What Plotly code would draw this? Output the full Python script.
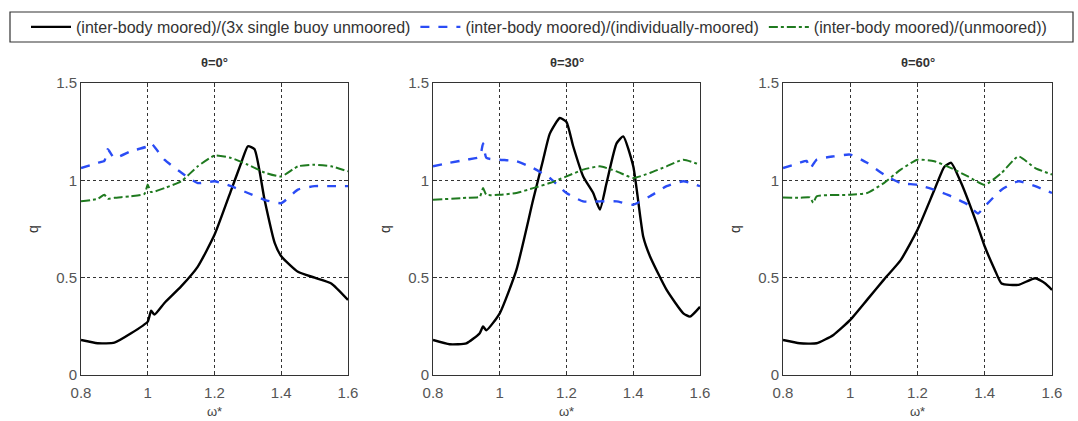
import plotly.graph_objects as go

# ---------------- data ----------------
titles = ["θ=0°", "θ=30°", "θ=60°"]
legend_names = ["(inter-body moored)/(3x single buoy unmoored)",
                "(inter-body moored)/(individually-moored)",
                "(inter-body moored)/(unmoored))"]

# panel 1 (theta = 0)
p1_black_x = [0.8, 0.85, 0.9, 0.95, 1.0, 1.01, 1.02, 1.05, 1.1, 1.15, 1.2, 1.25, 1.28, 1.3, 1.32, 1.35, 1.38, 1.4, 1.45, 1.5, 1.55, 1.6]
p1_black_y = [0.18, 0.163, 0.166, 0.214, 0.274, 0.33, 0.31, 0.37, 0.455, 0.557, 0.72, 0.95, 1.09, 1.175, 1.16, 0.90, 0.68, 0.61, 0.53, 0.50, 0.47, 0.385]
p1_blue_x = [0.8, 0.85, 0.87, 0.88, 0.9, 0.95, 1.0, 1.01, 1.05, 1.1, 1.15, 1.2, 1.25, 1.3, 1.35, 1.4, 1.45, 1.5, 1.55, 1.6]
p1_blue_y = [1.063, 1.09, 1.10, 1.16, 1.115, 1.15, 1.175, 1.19, 1.106, 1.04, 0.986, 0.995, 0.97, 0.935, 0.90, 0.883, 0.952, 0.97, 0.97, 0.97]
p1_green_x = [0.8, 0.85, 0.87, 0.88, 0.9, 0.95, 0.99, 1.0, 1.01, 1.05, 1.1, 1.15, 1.2, 1.25, 1.3, 1.35, 1.4, 1.45, 1.5, 1.55, 1.6]
p1_green_y = [0.892, 0.905, 0.926, 0.905, 0.91, 0.918, 0.93, 0.978, 0.94, 0.96, 0.995, 1.072, 1.127, 1.115, 1.08, 1.04, 1.02, 1.072, 1.08, 1.072, 1.046]

# panel 2 (theta = 30)
p2_black_x = [0.8, 0.85, 0.9, 0.94, 0.95, 0.96, 1.0, 1.05, 1.1, 1.13, 1.15, 1.18, 1.2, 1.22, 1.25, 1.28, 1.3, 1.32, 1.35, 1.37, 1.4, 1.43, 1.45, 1.5, 1.55, 1.57, 1.6]
p2_black_y = [0.18, 0.158, 0.163, 0.215, 0.249, 0.23, 0.317, 0.54, 0.90, 1.106, 1.24, 1.32, 1.30, 1.175, 1.02, 0.935, 0.85, 0.986, 1.19, 1.226, 1.072, 0.71, 0.61, 0.437, 0.317, 0.30, 0.35]
p2_blue_x = [0.8, 0.85, 0.9, 0.94, 0.95, 0.96, 1.0, 1.05, 1.1, 1.15, 1.2, 1.25, 1.3, 1.35, 1.4, 1.45, 1.5, 1.55, 1.6]
p2_blue_y = [1.072, 1.09, 1.106, 1.12, 1.19, 1.115, 1.106, 1.098, 1.063, 1.012, 0.935, 0.892, 0.892, 0.892, 0.875, 0.918, 0.97, 0.995, 0.97]
p2_green_x = [0.8, 0.9, 0.94, 0.95, 0.96, 1.0, 1.05, 1.1, 1.15, 1.2, 1.25, 1.3, 1.35, 1.4, 1.45, 1.5, 1.55, 1.6]
p2_green_y = [0.90, 0.91, 0.915, 0.96, 0.926, 0.926, 0.935, 0.96, 0.986, 1.02, 1.055, 1.072, 1.046, 1.012, 1.038, 1.072, 1.106, 1.08]

# panel 3 (theta = 60)
p3_black_x = [0.8, 0.85, 0.9, 0.95, 1.0, 1.05, 1.1, 1.15, 1.2, 1.25, 1.28, 1.3, 1.33, 1.38, 1.4, 1.43, 1.45, 1.5, 1.55, 1.58, 1.6]
p3_black_y = [0.18, 0.163, 0.163, 0.206, 0.283, 0.386, 0.49, 0.59, 0.746, 0.95, 1.07, 1.09, 0.986, 0.76, 0.66, 0.54, 0.47, 0.463, 0.497, 0.47, 0.437]
p3_blue_x = [0.8, 0.85, 0.87, 0.88, 0.9, 0.95, 1.0, 1.05, 1.1, 1.15, 1.2, 1.25, 1.3, 1.35, 1.38, 1.4, 1.45, 1.5, 1.55, 1.6]
p3_blue_y = [1.063, 1.09, 1.10, 1.06, 1.106, 1.123, 1.132, 1.09, 1.03, 0.986, 0.977, 0.952, 0.918, 0.875, 0.83, 0.866, 0.952, 0.995, 0.97, 0.935]
p3_green_x = [0.8, 0.85, 0.88, 0.89, 0.9, 1.0, 1.05, 1.1, 1.15, 1.2, 1.25, 1.3, 1.35, 1.4, 1.45, 1.5, 1.55, 1.6]
p3_green_y = [0.912, 0.91, 0.912, 0.885, 0.918, 0.926, 0.935, 0.986, 1.055, 1.106, 1.098, 1.063, 1.02, 0.977, 1.038, 1.123, 1.063, 1.03]

panels = [
    [(p1_black_x, p1_black_y), (p1_blue_x, p1_blue_y), (p1_green_x, p1_green_y)],
    [(p2_black_x, p2_black_y), (p2_blue_x, p2_blue_y), (p2_green_x, p2_green_y)],
    [(p3_black_x, p3_black_y), (p3_blue_x, p3_blue_y), (p3_green_x, p3_green_y)],
]

x_ticks = [0.8, 1.0, 1.2, 1.4, 1.6]
x_ticklabels = ["0.8", "1", "1.2", "1.4", "1.6"]
y_ticks = [0, 0.5, 1.0, 1.5]
y_ticklabels = ["0", "0.5", "1", "1.5"]

# ---------------- styles ----------------
styles = [dict(color="black", width=2.4, dash="solid"),
          dict(color="#2a4cf5", width=2.4, dash="dash"),
          dict(color="#1f7a1f", width=2.0, dash="dashdot")]

W, H = 1078, 421
x_domains = [(81 / W, 348 / W), (433 / W, 700 / W), (783 / W, 1052 / W)]
y_domain = ((H - 375) / H, (H - 83) / H)

font_family = "Liberation Sans, Arial, sans-serif"
fig = go.Figure()

for i, panel in enumerate(panels):
    xa = "x" if i == 0 else f"x{i+1}"
    ya = "y" if i == 0 else f"y{i+1}"
    for j, (xs, ys) in enumerate(panel):
        fig.add_trace(go.Scatter(
            x=xs, y=ys, mode="lines", line=dict(**styles[j], shape="spline", smoothing=0.5),
            name=legend_names[j], showlegend=(i == 0), xaxis=xa, yaxis=ya,
            legendgroup=str(j)))

    axis_common = dict(showline=True, linecolor="#333333", linewidth=1, mirror="ticks",
                       ticks="inside", ticklen=4, tickcolor="#333333", automargin=False,
                       showgrid=True, gridcolor="#333333", griddash="dot", gridwidth=1,
                       zeroline=False, tickfont=dict(size=15, color="#555555", family=font_family))
    xname = "xaxis" if i == 0 else f"xaxis{i+1}"
    yname = "yaxis" if i == 0 else f"yaxis{i+1}"
    fig.update_layout({
        xname: dict(domain=list(x_domains[i]), range=[0.8, 1.6], anchor=ya,
                    tickvals=x_ticks, ticktext=x_ticklabels, ticklabelstandoff=4,
                    title=dict(text="ω*", font=dict(size=13, color="#444444", family=font_family), standoff=6),
                    **axis_common),
        yname: dict(domain=list(y_domain), range=[0, 1.5], anchor=xa,
                    tickvals=y_ticks, ticktext=y_ticklabels,
                    title=dict(text="q", font=dict(size=14, color="#333333", family=font_family), standoff=14),
                    **axis_common),
    })
    fig.add_annotation(text=f"<b>{titles[i]}</b>", xref="paper", yref="paper",
                       x=(x_domains[i][0] + x_domains[i][1]) / 2, y=(H - 62) / H,
                       xanchor="center", yanchor="middle", showarrow=False,
                       font=dict(size=13, color="#333333", family=font_family))

# legend frame
fig.add_shape(type="rect", xref="paper", yref="paper",
              x0=10 / W, x1=1073 / W, y0=(H - 42) / H, y1=(H - 12) / H,
              line=dict(color="#333333", width=1.2), fillcolor="white", layer="below")

fig.update_layout(
    width=W, height=H, margin=dict(l=0, r=0, t=0, b=0),
    paper_bgcolor="white", plot_bgcolor="white",
    showlegend=True,
    legend=dict(orientation="h", x=0.5, xanchor="center", y=(H - 27) / H, yanchor="middle",
                bgcolor="rgba(0,0,0,0)", borderwidth=0,
                font=dict(size=16, color="#333333", family=font_family),
                itemwidth=40, tracegroupgap=0),
)

fig.write_html("out.html")
